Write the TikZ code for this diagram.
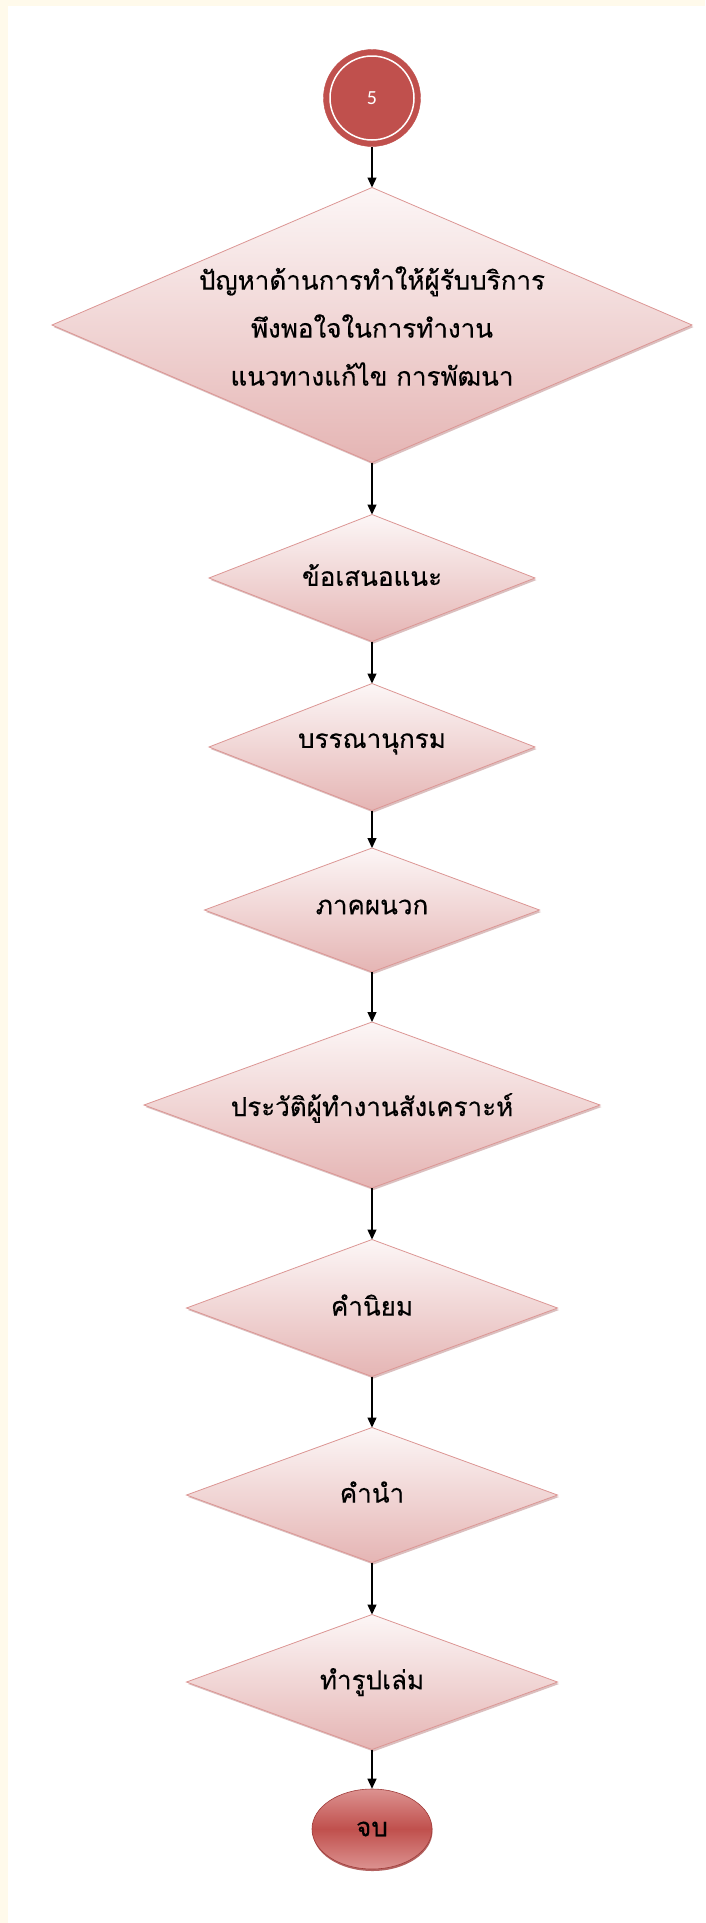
\documentclass[tikz,border=0pt]{standalone}
\usepackage{fontspec}
\newfontfamily\thaifont[Script=Thai,FakeBold=0.3]{Loma}
\setsansfont{Carlito}
\usetikzlibrary{shapes.geometric,arrows.meta,shadows}
\definecolor{cream}{RGB}{255,250,235}
\definecolor{dtop}{RGB}{252,246,246}
\definecolor{dbot}{RGB}{229,181,180}
\definecolor{dline}{RGB}{220,150,148}
\definecolor{accred}{RGB}{192,80,77}
\definecolor{lightred}{RGB}{220,146,144}
\definecolor{darkred}{RGB}{160,60,58}
\definecolor{shadowpink}{RGB}{205,165,165}
\begin{document}
\begin{tikzpicture}[x=1pt,y=-1pt,
  dia/.style={diamond, draw=dline, line width=0.8pt, inner sep=0pt, outer sep=0pt,
    top color=dtop, bottom color=dbot,
    drop shadow={shadow xshift=1.5pt, shadow yshift=-2pt, fill=shadowpink, opacity=0.7}},
  lbl/.style={font=\thaifont\fontsize{26pt}{48pt}\selectfont, align=center, inner sep=0pt, text=black},
  arr/.style={draw=black, line width=1.3pt, -{Triangle[length=10pt,width=9pt]}}
]
\useasboundingbox (0,0) rectangle (705,1923);
\fill[white] (0,0) rectangle (705,1923);
\fill[cream] (0,0) rectangle (705,6);
\fill[cream] (0,0) rectangle (8,1923);

% start connector
\node[circle, fill=accred, draw=accred, minimum size=97pt, inner sep=0pt,
  text=white, font=\sffamily\fontsize{20pt}{20pt}\selectfont] (c5) at (372,98) {5};
\node[circle, draw=white, line width=1.5pt, minimum size=84pt, inner sep=0pt] (c5ring) at (372,98) {};

% diamonds
\node[dia, minimum width=640pt, minimum height=275pt] (d1) at (372,325) {};
\node[lbl] (t1) at (372,326) {ปัญหาด้านการทำให้ผู้รับบริการ\\พึงพอใจในการทำงาน\\แนวทางแก้ไข การพัฒนา};

\node[dia, minimum width=326pt, minimum height=127pt] (d2) at (372,578) {};
\node[lbl] (t2) at (372,575) {ข้อเสนอแนะ};

\node[dia, minimum width=326pt, minimum height=127pt] (d3) at (372,747) {};
\node[lbl] (t3) at (372,744) {บรรณานุกรม};

\node[dia, minimum width=335pt, minimum height=124pt] (d4) at (372,910) {};
\node[lbl] (t4) at (372,907) {ภาคผนวก};

\node[dia, minimum width=456pt, minimum height=166pt] (d5) at (372,1105) {};
\node[lbl] (t5) at (372,1108) {ประวัติผู้ทำงานสังเคราะห์};

\node[dia, minimum width=371pt, minimum height=137pt] (d6) at (372,1308) {};
\node[lbl] (t6) at (372,1305) {คำนิยม};

\node[dia, minimum width=371pt, minimum height=135pt] (d7) at (372,1495) {};
\node[lbl] (t7) at (372,1492) {คำนำ};

\node[dia, minimum width=371pt, minimum height=135pt] (d8) at (372,1682) {};
\node[lbl] (t8) at (372,1682) {ทำรูปเล่ม};

% end
\node[ellipse, minimum width=120pt, minimum height=80pt, inner sep=0pt,
  draw=darkred, line width=0.6pt,
  top color=lightred, bottom color=lightred, middle color=accred,
  drop shadow={shadow xshift=0.5pt, shadow yshift=-2pt, fill=darkred, opacity=0.8},
  font=\thaifont\fontsize{26pt}{26pt}\selectfont] (e) at (372,1829) {จบ};

% connectors
\draw[arr] (c5) -- (d1);
\draw[arr] (d1) -- (d2);
\draw[arr] (d2) -- (d3);
\draw[arr] (d3) -- (d4);
\draw[arr] (d4) -- (d5);
\draw[arr] (d5) -- (d6);
\draw[arr] (d6) -- (d7);
\draw[arr] (d7) -- (d8);
\draw[arr] (d8) -- (e);
\end{tikzpicture}
\end{document}
